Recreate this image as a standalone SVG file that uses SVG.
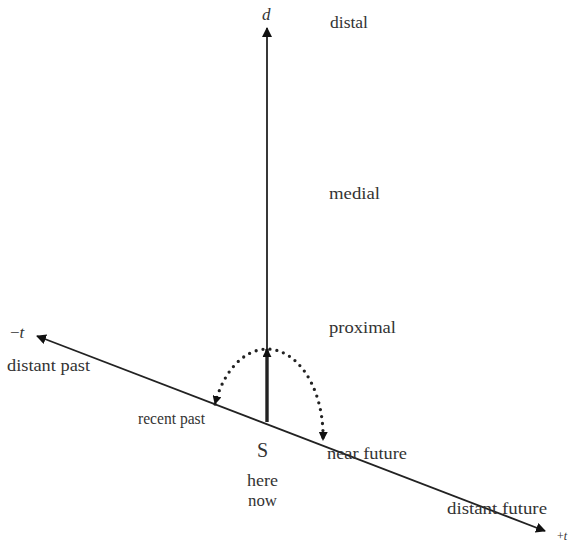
<svg xmlns="http://www.w3.org/2000/svg" width="568" height="544" viewBox="0 0 568 544">
<style>
.t{font-family:"Liberation Serif","Times New Roman",serif;font-size:17px;fill:#333}
.i{font-style:italic}
.ln{stroke:#222;fill:none}
</style>
<defs>
<marker id="ah" viewBox="0 0 10 10" refX="9" refY="5" markerWidth="10" markerHeight="10" markerUnits="userSpaceOnUse" orient="auto-start-reverse">
<path d="M0,0 L10,5 L0,10 z" fill="#111"/>
</marker>
<marker id="ahs" viewBox="0 0 10 10" refX="9" refY="5" markerWidth="9" markerHeight="9" markerUnits="userSpaceOnUse" orient="auto-start-reverse">
<path d="M0,0 L10,5 L0,10 z" fill="#111"/>
</marker>
</defs>
<g id="connectors">
<line class="ln" x1="267" y1="422" x2="267" y2="28" stroke-width="1.8" marker-end="url(#ah)"/>
<line class="ln" x1="267" y1="422" x2="267" y2="349" stroke-width="3.4" marker-end="url(#ahs)"/>
<line class="ln" x1="37" y1="336" x2="545" y2="531" stroke-width="1.8" marker-start="url(#ah)" marker-end="url(#ah)"/>
<path class="ln" d="M215,404 A56,87 0 0 1 323,440" stroke-width="3.3" stroke-dasharray="0 7" stroke-linecap="round" marker-start="url(#ahs)" marker-end="url(#ahs)"/>
</g>
<g id="axis-d"><text class="t i" x="262" y="20">d</text></g>
<g id="distal"><text class="t" x="330" y="28" textLength="38" lengthAdjust="spacingAndGlyphs">distal</text></g>
<g id="medial"><text class="t" x="329" y="199" textLength="51" lengthAdjust="spacingAndGlyphs">medial</text></g>
<g id="proximal"><text class="t" x="329" y="333" textLength="67" lengthAdjust="spacingAndGlyphs">proximal</text></g>
<g id="minus-t"><text class="t" x="10" y="338">−<tspan class="i">t</tspan></text></g>
<g id="distant-past"><text class="t" x="7" y="371" textLength="83" lengthAdjust="spacingAndGlyphs">distant past</text></g>
<g id="recent-past"><text class="t" x="138" y="424" textLength="67" lengthAdjust="spacingAndGlyphs">recent past</text></g>
<g id="S"><text class="t" x="257" y="457" style="font-size:20px">S</text></g>
<g id="here-now">
<text class="t" x="247" y="486" textLength="31" lengthAdjust="spacingAndGlyphs">here</text>
<text class="t" x="248" y="506" textLength="29" lengthAdjust="spacingAndGlyphs">now</text>
</g>
<g id="near-future"><text class="t" x="327" y="459" textLength="80" lengthAdjust="spacingAndGlyphs">near future</text></g>
<g id="distant-future"><text class="t" x="447" y="514" textLength="100" lengthAdjust="spacingAndGlyphs">distant  future</text></g>
<g id="plus-t"><text class="t" x="557" y="540" style="font-size:12px">+<tspan class="i">t</tspan></text></g>
</svg>
